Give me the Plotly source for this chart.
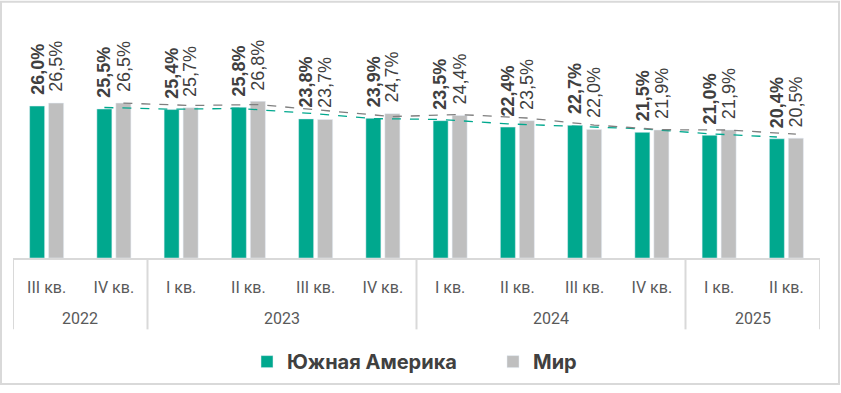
import plotly.graph_objects as go
import pandas as pd

years = ["2022", "2022", "2023", "2023", "2023", "2023", "2024", "2024", "2024", "2024", "2025", "2025"]
quarters = ["III кв.", "IV кв.", "I кв.", "II кв.", "III кв.", "IV кв.", "I кв.", "II кв.", "III кв.", "IV кв.", "I кв.", "II кв."]
south_america = [26.0, 25.5, 25.4, 25.8, 23.8, 23.9, 23.5, 22.4, 22.7, 21.5, 21.0, 20.4]
world = [26.5, 26.5, 25.7, 26.8, 23.7, 24.7, 24.4, 23.5, 22.0, 21.9, 21.9, 20.5]
series_names = ["Южная Америка", "Мир"]

GREEN = "#00A88E"
GRAY = "#BFBFBF"
TXT = "#404040"
AX = "#D9D9D9"

W, H = 841, 393
ML, MR, MT, MB = 13, 21, 40, 130
PW, PH = W - ML - MR, H - MT - MB
BARGAP = 0.435
n = len(quarters)
idx = list(range(n))
off = (1 - BARGAP) / 4


def py(pix):
    """pixel y (from top of image) -> paper y"""
    return (MT + PH - pix) / PH


# 2-period moving average trendlines (as in the original chart)
sa_ma = pd.Series(south_america).rolling(2).mean().tolist()
w_ma = pd.Series(world).rolling(2).mean().tolist()

fig = go.Figure()
fig.add_trace(go.Bar(x=idx, y=south_america, name=f"<b>{series_names[0]}</b>",
                     marker_color=GREEN, hoverinfo="y"))
fig.add_trace(go.Bar(x=idx, y=world, name=f"<b>{series_names[1]}</b>",
                     marker_color=GRAY, hoverinfo="y"))
fig.add_trace(go.Scatter(x=[i - off for i in idx[1:]], y=sa_ma[1:], mode="lines",
                         line=dict(color=GREEN, width=1.3, dash="dash"),
                         showlegend=False, hoverinfo="skip"))
fig.add_trace(go.Scatter(x=[i + off for i in idx[1:]], y=w_ma[1:], mode="lines",
                         line=dict(color="#7F7F7F", width=1.3, dash="dash"),
                         showlegend=False, hoverinfo="skip"))

ann = []
for i in idx:
    ann.append(dict(x=i - off, y=south_america[i], xref="x", yref="y",
                    text=f"<b>{south_america[i]:.1f}%</b>".replace(".", ","),
                    textangle=-90, showarrow=False, yanchor="bottom", xanchor="center",
                    yshift=9, font=dict(family="Liberation Sans", size=18, color=TXT)))
    ann.append(dict(x=i + off, y=world[i], xref="x", yref="y",
                    text=f"{world[i]:.1f}%".replace(".", ","),
                    textangle=-90, showarrow=False, yanchor="bottom", xanchor="center",
                    yshift=9, font=dict(family="Liberation Sans", size=18, color=TXT)))

# year group labels and dividers
groups = []
for i, yv in enumerate(years):
    if not groups or groups[-1][0] != yv:
        groups.append([yv, i, i])
    else:
        groups[-1][2] = i

shapes = []
for yv, a, b in groups:
    ann.append(dict(x=(a + b) / 2, y=py(325), xref="x", yref="paper", text=yv,
                    showarrow=False, xanchor="center", yanchor="middle",
                    font=dict(family="Roboto", size=16, color="#595959")))
    shapes.append(dict(type="line", xref="x", yref="paper", x0=a - 0.5, x1=a - 0.5,
                       y0=py(263), y1=py(336), line=dict(color=AX, width=2)))
shapes.append(dict(type="line", xref="x", yref="paper", x0=n - 0.5, x1=n - 0.5,
                   y0=py(263), y1=py(336), line=dict(color=AX, width=2)))
shapes.append(dict(type="rect", xref="paper", yref="paper",
                   x0=(1 - ML) / PW, x1=(839 - ML) / PW,
                   y0=py(392), y1=py(1),
                   line=dict(color=AX, width=2), layer="above"))

fig.update_layout(
    width=W, height=H,
    margin=dict(l=ML, r=MR, t=MT, b=MB),
    paper_bgcolor="white", plot_bgcolor="white",
    barmode="group", bargap=BARGAP, bargroupgap=0.21,
    showlegend=True,
    legend=dict(orientation="h", x=(247 - ML) / PW, xanchor="left", y=py(369), yanchor="middle",
                font=dict(family="Inter", size=20, color=TXT), entrywidth=201,
                traceorder="normal", bgcolor="rgba(0,0,0,0)"),
    xaxis=dict(range=[-0.5, n - 0.5], tickvals=idx, ticktext=quarters,
               showline=True, linecolor=AX, linewidth=2, ticks="", showgrid=False,
               zeroline=False, ticklabelstandoff=14,
               tickfont=dict(family="Roboto", size=16, color="#595959")),
    yaxis=dict(range=[0, 37.3], visible=False, showgrid=False, zeroline=False),
    annotations=ann,
    shapes=shapes,
)

fig.write_html("out.html", config={"displayModeBar": False},
               post_script="document.body.style.margin='0';")
